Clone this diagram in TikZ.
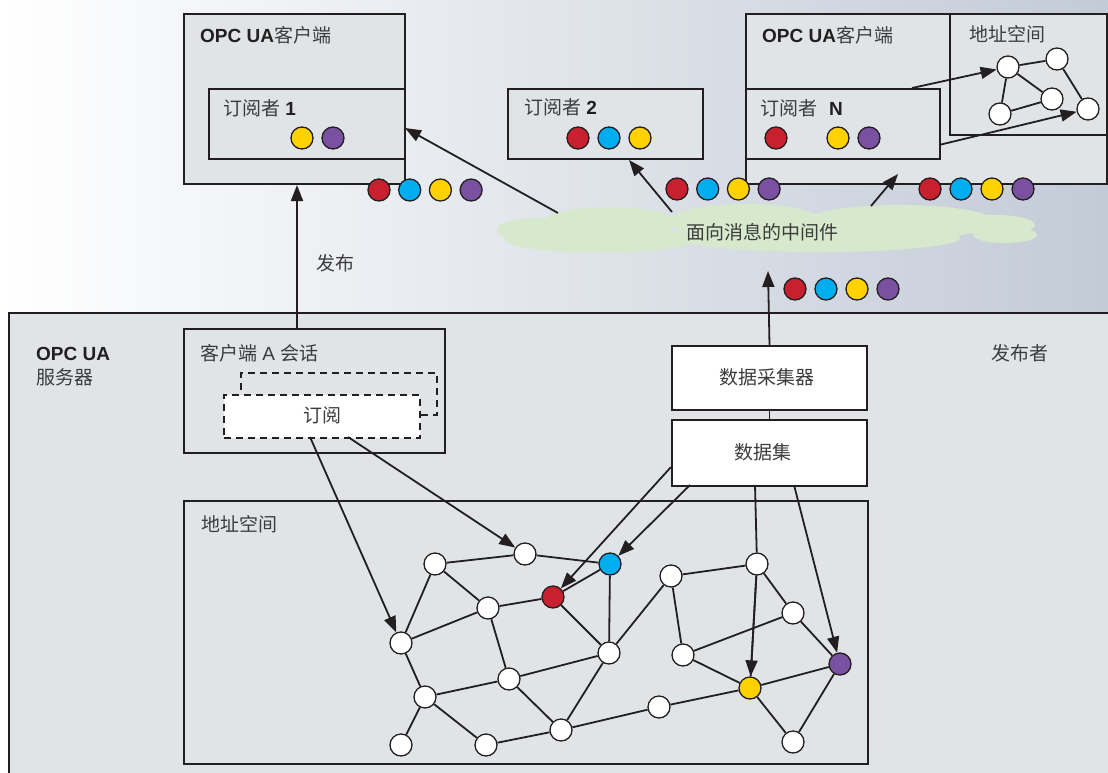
\documentclass[tikz,border=0pt]{standalone}
\usepackage{fontspec}
\setmainfont{Liberation Sans}
\newfontfamily\zh{Noto Sans CJK SC}
\usetikzlibrary{arrows.meta,calc}

\definecolor{ink}{HTML}{231F20}
\definecolor{txt}{HTML}{3C3C3C}
\definecolor{panel}{HTML}{E1E4E7}
\definecolor{dred}{HTML}{C8202F}
\definecolor{dblue}{HTML}{00AEEF}
\definecolor{dyellow}{HTML}{FFD200}
\definecolor{dpurple}{HTML}{7A50A0}
\definecolor{mwgreen}{HTML}{D6E9CC}
\definecolor{skyR}{HTML}{C3CBD7}

\begin{document}
\begin{tikzpicture}[x=1pt,y=-1pt,
  font=\fontsize{19}{22}\selectfont,
  panelbox/.style={rectangle, draw=ink, line width=2pt, fill=panel, anchor=north west, inner sep=0pt},
  whitebox/.style={panelbox, fill=white},
  dashbox/.style={panelbox, line width=1.8pt, dash pattern=on 7pt off 5pt},
  lbl/.style={anchor=west, inner sep=0pt, text=txt},
  ctr/.style={inner sep=0pt, text=txt},
  dot/.style={circle, draw=ink, line width=1.3pt, minimum size=22pt, inner sep=0pt},
  gnode/.style={dot, fill=white},
  link/.style={draw=ink, line width=1.8pt},
  flow/.style={link, -{Triangle[length=16pt,width=12pt]}}]

\useasboundingbox (0,0) rectangle (1108,773);
\clip (0,0) rectangle (1108,773);

% sky gradient behind everything
\shade[left color=white, right color=skyR] (0,0) rectangle (1108,773);

% ---------------- publisher (server) ----------------
\node[panelbox, minimum width=1130pt, minimum height=490pt] (srv) at (8,312) {};
\node[lbl, font=\fontsize{19}{22}\selectfont\bfseries, text=ink] (srvA) at (36,354) {OPC UA};
\node[lbl] (srvB) at (36,377) {\zh 服务器};
\node[lbl] (pub) at (991,353) {\zh 发布者};

% client session with subscriptions
\node[panelbox, minimum width=261pt, minimum height=124pt] (sess) at (183,328) {};
\node[lbl] (sessT) at (200,353) {{\zh 客户端} A {\zh 会话}};
\node[dashbox, fill=none, minimum width=196pt, minimum height=42pt] (subB) at (240,372) {};
\node[dashbox, fill=white, minimum width=196pt, minimum height=43pt] (subF) at (223,394) {};
\node[ctr] (subT) at (322,415) {\zh 订阅};

% data collector and data set
\node[whitebox, minimum width=195pt, minimum height=64pt] (col) at (671,345) {};
\node[ctr] (colT) at (767,377) {\zh 数据采集器};
\node[whitebox, minimum width=195pt, minimum height=66pt] (ds) at (671,419) {};
\node[ctr] (dsT) at (763,452) {\zh 数据集};
\draw[link] (col.south) -- (col.south |- ds.north);

% server address space
\node[panelbox, minimum width=684pt, minimum height=263pt] (as) at (183,500) {};
\node[lbl] (asT) at (201,524) {\zh 地址空间};

\node[gnode] (n1) at (435,564) {};
\node[gnode] (n2) at (525,554) {};
\node[dot, fill=dblue] (n3) at (610,564) {};
\node[dot, fill=dred] (n4) at (553,597) {};
\node[gnode] (n5) at (488,608) {};
\node[gnode] (n6) at (401,643) {};
\node[gnode] (n7) at (609,653) {};
\node[gnode] (n8) at (509,679) {};
\node[gnode] (n9) at (425,697) {};
\node[gnode] (n10) at (561,730) {};
\node[gnode] (n11) at (401,745) {};
\node[gnode] (n12) at (486,745) {};
\node[gnode] (n13) at (671,576) {};
\node[gnode] (n14) at (757,564) {};
\node[gnode] (n15) at (793,613) {};
\node[gnode] (n16) at (683,655) {};
\node[dot, fill=dyellow] (n17) at (750,688) {};
\node[dot, fill=dpurple] (n18) at (840,664) {};
\node[gnode] (n19) at (659,707) {};
\node[gnode] (n20) at (793,742) {};

\foreach \a/\b in {n1/n2, n2/n3, n1/n5, n1/n6, n6/n5, n5/n4, n4/n3, n4/n7, n3/n7,
  n7/n13, n5/n8, n6/n9, n9/n8, n8/n7, n8/n10, n7/n10, n9/n11, n9/n12, n12/n10,
  n10/n19, n13/n14, n13/n16, n15/n16, n14/n15, n15/n18, n16/n17, n19/n17,
  n17/n18, n17/n20, n18/n20, n14/n17}
  \draw[link] (\a) -- (\b);

% references from the subscription into the address space
\coordinate (subA) at (310,437);
\coordinate (subC) at (348,437);
\draw[flow] (subA) -- (n6);
\draw[flow] (subC) -- (n2);

% data set items
\coordinate (dsR) at (671,467);
\coordinate (dsB) at (690,485);
\coordinate (dsY) at (755,485);
\coordinate (dsP) at (794,485);
\draw[flow] (dsR) -- (n4);
\draw[flow] (dsB) -- (n3);
\draw[link] (dsY) -- (n14);
\draw[flow] (n14) -- (n17);
\draw[flow] (dsP) -- (n18);

% ---------------- message oriented middleware ----------------
\begin{scope}[fill=mwgreen]
  \fill (535,230) ellipse [x radius=38, y radius=12];
  \fill (600,239) ellipse [x radius=95, y radius=14];
  \fill (610,222) ellipse [x radius=66, y radius=15];
  \fill (745,221) ellipse [x radius=76, y radius=17];
  \fill (900,222) ellipse [x radius=95, y radius=17];
  \fill (820,238) ellipse [x radius=140, y radius=14];
  \fill (995,225) ellipse [x radius=40, y radius=10];
  \fill (1005,235) ellipse [x radius=32, y radius=8];
\end{scope}
\node[ctr] (mw) at (762,232) {\zh 面向消息的中间件};

% ---------------- subscribers ----------------
\node[panelbox, minimum width=221pt, minimum height=170pt] (c1) at (183,13) {};
\node[lbl] (c1T) at (200,35) {{\bfseries\color{ink}OPC UA}\zh 客户端};
\node[panelbox, minimum width=196pt, minimum height=70pt] (s1) at (208,88) {};
\node[lbl] (s1T) at (223,108) {{\zh 订阅者} {\bfseries\color{ink}1}};
\node[dot, fill=dyellow] (s1y) at (302,138) {};
\node[dot, fill=dpurple] (s1p) at (333,138) {};

\node[panelbox, minimum width=195pt, minimum height=70pt] (s2) at (507,88) {};
\node[lbl] (s2T) at (524,107) {{\zh 订阅者} {\bfseries\color{ink}2}};
\node[dot, fill=dred] (s2r) at (578,138) {};
\node[dot, fill=dblue] (s2b) at (609,138) {};
\node[dot, fill=dyellow] (s2y) at (640,138) {};

\node[panelbox, minimum width=361pt, minimum height=170pt] (cN) at (745,13) {};
\node[lbl] (cNT) at (762,35) {{\bfseries\color{ink}OPC UA}\zh 客户端};
\node[panelbox, minimum width=157pt, minimum height=121pt] (aN) at (949,13) {};
\node[lbl] (aNT) at (969,34) {\zh 地址空间};
\node[panelbox, minimum width=194pt, minimum height=70pt] (sN) at (745,88) {};
\node[lbl] (sNT) at (760,108) {{\zh 订阅者}\hspace{12pt}{\bfseries\color{ink}N}};
\node[dot, fill=dred] (sNr) at (776,138) {};
\node[dot, fill=dyellow] (sNy) at (838,138) {};
\node[dot, fill=dpurple] (sNp) at (869,138) {};

\node[gnode] (m1) at (1008,67) {};
\node[gnode] (m2) at (1057,59) {};
\node[gnode] (m3) at (1052,99) {};
\node[gnode] (m4) at (1000,114) {};
\node[gnode] (m5) at (1088,109) {};
\foreach \a/\b in {m1/m2, m1/m3, m1/m4, m4/m3, m2/m5}
  \draw[link] (\a) -- (\b);
\coordinate (sNa) at (912,88);
\coordinate (sNb) at (939,145);
\draw[flow] (sNa) -- (m1);
\draw[flow] (sNb) -- (m5);

% ---------------- messages in transit ----------------
\foreach \c [count=\i from 0] in {dred,dblue,dyellow,dpurple} {
  \node[dot, fill=\c] (ra\i) at (379+30.7*\i,190) {};
  \node[dot, fill=\c] (rb\i) at (677+30.7*\i,189) {};
  \node[dot, fill=\c] (rc\i) at (930+31*\i,189) {};
  \node[dot, fill=\c] (rd\i) at (795+31*\i,289) {};
}

% ---------------- publish / deliver ----------------
\coordinate (mwA) at (558,213);
\coordinate (mwB) at (672,212);
\coordinate (mwC) at (871,206);
\coordinate (mwIn) at (768,271);
\coordinate (s1in) at (405,128);
\coordinate (s2in) at (629,160);
\coordinate (cNin) at (898,174);
\draw[flow] (mwA) -- (s1in);
\draw[flow] (mwB) -- (s2in);
\draw[flow] (mwC) -- (cNin);
\draw[flow] (col.north) -- (mwIn);
\draw[flow] (sess.north -| 297,0) -- (c1.south -| 297,0);
\node[lbl] (pubT) at (316,263) {\zh 发布};

\end{tikzpicture}
\end{document}
